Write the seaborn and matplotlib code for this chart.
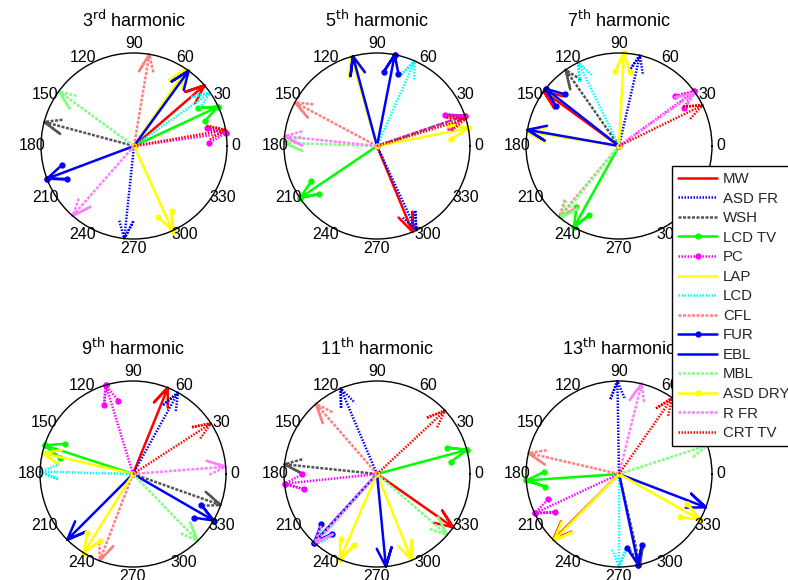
import numpy as np
import matplotlib
matplotlib.use('Agg')
import matplotlib.pyplot as plt
import seaborn as sns

loads = ['MW', 'ASD FR', 'WSH', 'LCD TV', 'PC', 'LAP', 'LCD', 'CFL',
         'FUR', 'EBL', 'MBL', 'ASD DRY', 'R FR', 'CRT TV']
harmonics = [3, 5, 7, 9, 11, 13]
suffixes = ['rd', 'th', 'th', 'th', 'th', 'th']

# phase angle (deg) of each load's harmonic current, same order as loads
# (magnitudes are normalised, every arrow has length 1)
h3 = [40.7, 264, 165, 25, 8, 56, 35, 80.5, 200.6, 54, 144, 294.5, 228.7, 10]
h5 = [292.5, 295, 19, 214, 19, 106, 66, 152, 79, 105, 178, 11, 174, 17]
h7 = [144, 77, 125, 241, 36, 171, 116, 230, 142, 170, 231, 87, 35, 26]
h9 = [68, 61, 340.5, 162, 107, 167, 178.5, 249, 330, 225, 314, 238, 4.5, 33]
h11 = [325, 113, 174, 15, 186, 292, 229, 131, 227.5, 275.5, 319, 246.5, 228, 43]
h13 = [225, 91, 283, 184, 205, 225.5, 270, 167, 282, 339, 18, 330.5, 76, 55]
angles = [h3, h5, h7, h9, h11, h13]

theta_ticks = list(range(0, 360, 30))

# line style per load: colour, linestyle, marker
dash = (0, (1.2, 0.6))
dot = (0, (0.6, 0.6))
styles = {
    'MW': ('#ff0000', '-', None),
    'ASD FR': ('#0000ff', dot, None),
    'WSH': ('#555555', dash, None),
    'LCD TV': ('#00ff00', '-', 'o'),
    'PC': ('#ff00ff', dot, 'o'),
    'LAP': ('#ffff00', '-', None),
    'LCD': ('#00ffff', dot, None),
    'CFL': ('#ff7f7f', dash, None),
    'FUR': ('#0000ff', '-', 'o'),
    'EBL': ('#0000ff', '-', None),
    'MBL': ('#7fff7f', dash, None),
    'ASD DRY': ('#ffff00', '-', 'o'),
    'R FR': ('#ff7fff', dash, None),
    'CRT TV': ('#ff0000', dot, None),
}

sns.set_theme(style='white', rc={'axes.edgecolor': 'black'})
plt.rcParams['font.family'] = ['Liberation Sans', 'DejaVu Sans']

W, H = 788, 580
fig = plt.figure(figsize=(W / 100, H / 100), dpi=100)
centres = [(134, 146), (377, 146), (619, 146), (133, 474), (377, 474), (619, 474)]
R = 93

# compass arrow shape (shaft plus two barbs), unit length along +x
arrow = np.array([0, 1, 0.8 + 0.08j, 1, 0.8 - 0.08j])

handles = {}
for k, (cx, cy) in enumerate(centres):
    ax = fig.add_axes([(cx - R) / W, (H - cy - R) / H, 2 * R / W, 2 * R / H],
                      projection='polar')
    for name, ang in zip(loads, angles[k]):
        col, ls, mk = styles[name]
        z = arrow * np.exp(1j * np.deg2rad(ang))
        ln, = ax.plot(np.angle(z), np.abs(z), color=col, linestyle=ls, lw=1.8,
                      marker=mk, markersize=3.5, clip_on=False)
        handles[name] = ln
    ax.set_ylim(0, 1)
    ax.set_yticks([])
    ax.set_xticks(np.deg2rad(theta_ticks))
    ax.set_xticklabels([])
    ax.grid(False)
    ax.spines['polar'].set_color('black')
    ax.spines['polar'].set_linewidth(1.0)
    for t in theta_ticks:
        ax.text(np.deg2rad(t), 1.1, str(t), ha='center', va='center',
                fontsize=11.5, color='black')
    ax.set_title(f'{harmonics[k]}$^{{\\mathrm{{{suffixes[k]}}}}}$ harmonic',
                 fontsize=13, color='black', y=1.14, pad=0)

leg = fig.legend([handles[n] for n in loads], loads, loc='upper left',
                 bbox_to_anchor=(672 / W, 1 - 166 / H), borderaxespad=0,
                 fontsize=10.8, numpoints=1, handlelength=2.6,
                 handletextpad=0.4, labelspacing=0.37, borderpad=0.4,
                 fancybox=False, framealpha=1, edgecolor='black')
leg.get_frame().set_linewidth(1.0)

fig.savefig('out.png', dpi=100)
